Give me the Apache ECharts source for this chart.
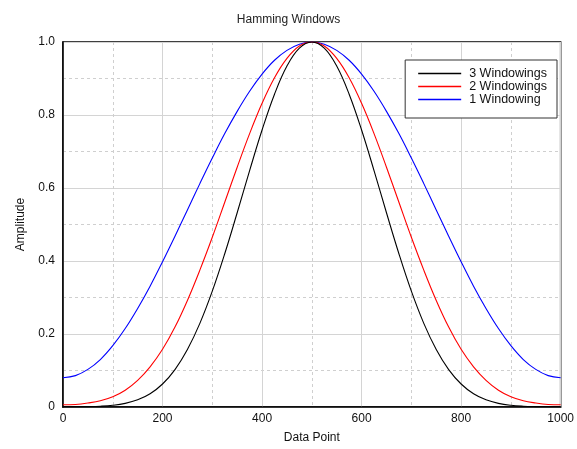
<!DOCTYPE html>
<html><head><meta charset="utf-8">
<script src="https://cdn.jsdelivr.net/npm/echarts@6/dist/echarts.min.js"></script>
<style>html,body{margin:0;padding:0;background:#fff}#c{width:577px;height:449px}</style>
</head><body><div id="c"></div>
<script>
var xPoints = [0,25,50,75,100,125,150,175,200,225,250,275,300,325,350,375,400,425,450,475,500,525,550,575,600,625,650,675,700,725,750,775,800,825,850,875,900,925,950,975,1000];
var oneWin = [0.080,0.086,0.103,0.130,0.168,0.215,0.270,0.331,0.398,0.468,0.540,0.612,0.682,0.749,0.810,0.865,0.912,0.950,0.977,0.994,1.000,0.994,0.977,0.950,0.912,0.865,0.810,0.749,0.682,0.612,0.540,0.468,0.398,0.331,0.270,0.215,0.168,0.130,0.103,0.086,0.080];
var twoWin = [0.006,0.007,0.011,0.017,0.028,0.046,0.073,0.110,0.158,0.219,0.292,0.375,0.465,0.561,0.657,0.749,0.832,0.902,0.955,0.989,1.000,0.989,0.955,0.902,0.832,0.749,0.657,0.561,0.465,0.375,0.292,0.219,0.158,0.110,0.073,0.046,0.028,0.017,0.011,0.007,0.006];
var threeWin = [0.0005,0.0006,0.0011,0.0022,0.0047,0.0099,0.0196,0.0363,0.063,0.1025,0.1575,0.2292,0.3174,0.4199,0.5322,0.6478,0.7589,0.8570,0.9340,0.9831,1.000,0.9831,0.9340,0.8570,0.7589,0.6478,0.5322,0.4199,0.3174,0.2292,0.1575,0.1025,0.063,0.0363,0.0196,0.0099,0.0047,0.0022,0.0011,0.0006,0.0005];
var seriesNames = ['3 Windowings','2 Windowings','1 Windowing'];
var seriesColors = ['#000000','#ff0000','#0000ff'];
var titleText = 'Hamming Windows';
var xName = 'Data Point';
var yName = 'Amplitude';

function pairs(ys){ return xPoints.map(function(x,i){return [x, ys[i]];}); }

var chart = echarts.init(document.getElementById('c'), null, {renderer:'canvas'});
var font = 'Liberation Sans, Arial, sans-serif';
var datasets = [threeWin, twoWin, oneWin];
chart.setOption({
  animation:false,
  color:seriesColors,
  title:{text:titleText,left:'center',top:9,textStyle:{fontFamily:font,fontSize:12,fontWeight:'normal',color:'#222'}},
  grid:{left:63,right:16,top:42,bottom:42,show:true,borderColor:'#000',borderWidth:1.5,backgroundColor:'transparent'},
  legend:{
    data:seriesNames.map(function(n,i){return {name:n,icon:'rect',itemStyle:{color:seriesColors[i],borderWidth:0}};}),
    orient:'vertical', right:20, top:60,
    backgroundColor:'#fff', borderColor:'#333', borderWidth:1, borderRadius:0,
    padding:[7,10,12,13], itemGap:0, itemWidth:43, itemHeight:1.6,
    textStyle:{fontFamily:font,fontSize:12.5,color:'#111',padding:[0,0,0,3],lineHeight:13}
  },
  xAxis:{type:'value',min:0,max:1000,interval:200,
    name:xName,nameLocation:'middle',nameGap:25,nameTextStyle:{fontFamily:font,fontSize:12,color:'#111'},
    axisLine:{show:true,lineStyle:{color:'#000',width:1.5}},axisTick:{show:false},
    axisLabel:{fontFamily:font,fontSize:12,color:'#111',margin:6,formatter:function(v){return String(v);}},
    splitLine:{show:true,lineStyle:{color:'#d4d4d4',width:1}},
    minorTick:{show:false,splitNumber:2},
    minorSplitLine:{show:true,lineStyle:{color:'#cfcfcf',type:[3,3],width:1}}
  },
  yAxis:{type:'value',min:0,max:1,interval:0.2,
    name:yName,nameLocation:'middle',nameGap:36,nameRotate:90,nameTextStyle:{fontFamily:font,fontSize:12,color:'#111'},
    axisLine:{show:true,lineStyle:{color:'#000',width:1.5}},axisTick:{show:false},
    axisLabel:{fontFamily:font,fontSize:12,color:'#111',margin:8,formatter:function(v){return v===0?'0':v.toFixed(1);}},
    splitLine:{show:true,lineStyle:{color:'#d4d4d4',width:1}},
    minorTick:{show:false,splitNumber:2},
    minorSplitLine:{show:true,lineStyle:{color:'#cfcfcf',type:[3,3],width:1}}
  },
  series:seriesNames.map(function(n,i){
    return {name:n,type:'line',data:pairs(datasets[i]),smooth:0.4,showSymbol:false,symbol:'none',
      lineStyle:{color:seriesColors[i],width:1.1},itemStyle:{color:seriesColors[i]},z:3-i};
  })
});
</script></body></html>
